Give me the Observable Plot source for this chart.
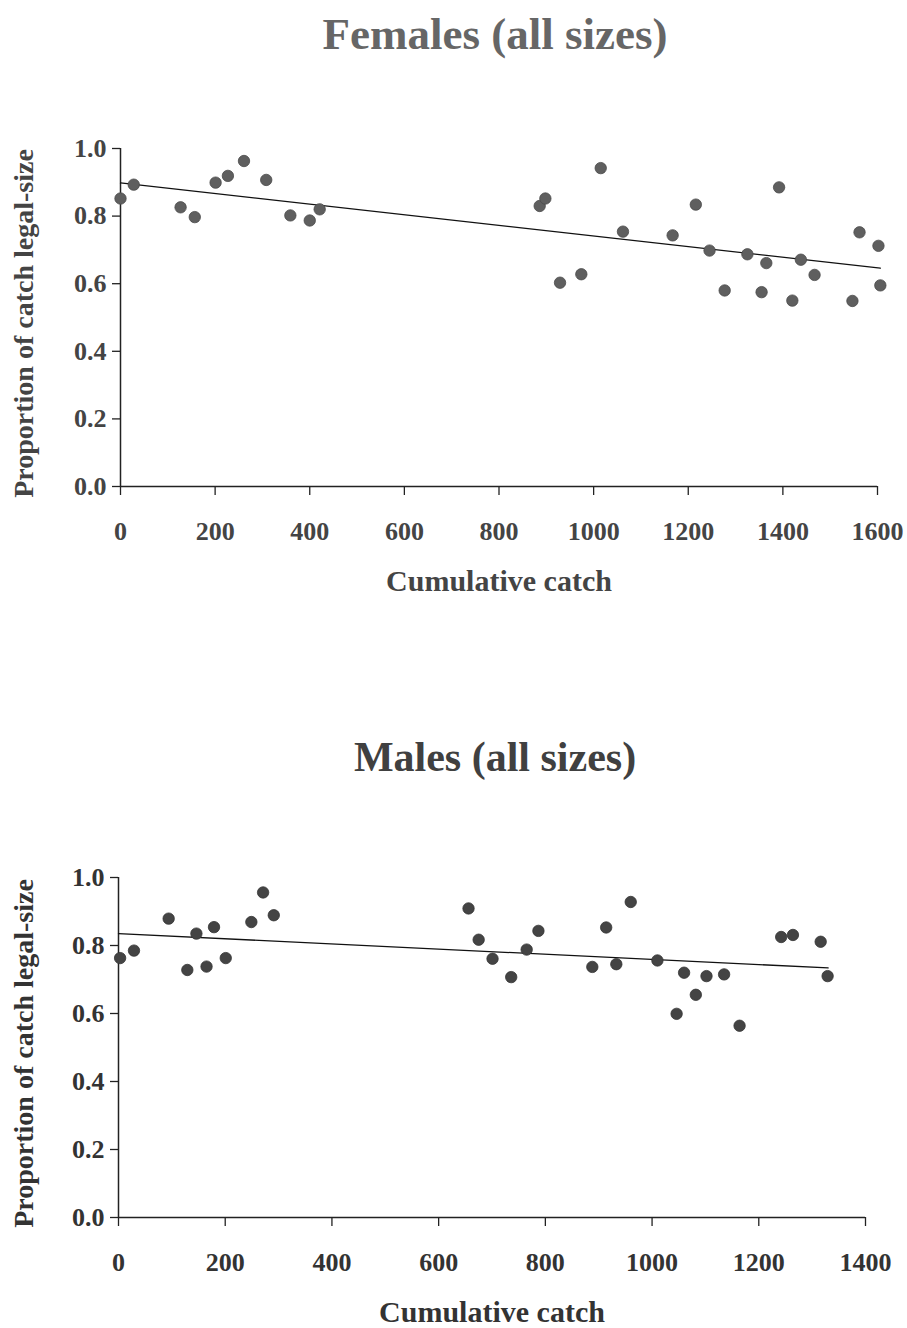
<!DOCTYPE html>
<html>
<head>
<meta charset="utf-8">
<script src="https://cdn.jsdelivr.net/npm/d3@7"></script>
<script src="https://cdn.jsdelivr.net/npm/@observablehq/plot@0.6"></script>
<style>
  body { margin: 0; background: #fff; }
  #wrap { position: relative; width: 907px; height: 1328px; overflow: hidden; background: #fff;
          font-family: "Liberation Serif", "Times New Roman", serif; }
  .title { position: absolute; left: 495px; font-weight: bold; white-space: nowrap;
           transform: translate(-50%, 0); }
  .panel { position: absolute; left: 0; }
</style>
</head>
<body>
<div id="wrap">
  <div class="title" id="t1"></div>
  <div class="panel" id="p1"></div>
  <div class="title" id="t2"></div>
  <div class="panel" id="p2"></div>
</div>
<script>
// ---------------- data ----------------
const femalesTitle = "Females (all sizes)";
const malesTitle = "Males (all sizes)";
const xLabel = "Cumulative catch";
const yLabel = "Proportion of catch legal-size";

const yTicks = [0, 0.2, 0.4, 0.6, 0.8, 1.0];
const femalesXTicks = [0, 200, 400, 600, 800, 1000, 1200, 1400, 1600];
const malesXTicks = [0, 200, 400, 600, 800, 1000, 1200, 1400];

const femalesCatch = [0, 28, 127, 157, 201, 227, 261, 308, 359, 400, 421, 886, 898, 929, 974, 1015,
  1062, 1167, 1216, 1245, 1277, 1325, 1355, 1365, 1392, 1420, 1438, 1467, 1547, 1562, 1602, 1606];
const femalesProp = [0.852, 0.893, 0.826, 0.797, 0.899, 0.919, 0.963, 0.907, 0.802, 0.787, 0.820, 0.830,
  0.852, 0.603, 0.628, 0.942, 0.754, 0.743, 0.834, 0.698, 0.580, 0.687, 0.575, 0.661, 0.885, 0.550,
  0.671, 0.626, 0.549, 0.752, 0.712, 0.595];
const femalesFitCatch = [0, 1606];
const femalesFitProp = [0.898, 0.646];

const malesCatch = [3, 29, 94, 129, 146, 165, 179, 201, 249, 271, 291, 656, 675, 701, 736, 765, 787,
  888, 914, 933, 960, 1010, 1046, 1060, 1082, 1102, 1135, 1164, 1242, 1264, 1316, 1329];
const malesProp = [0.763, 0.785, 0.879, 0.728, 0.835, 0.738, 0.854, 0.763, 0.869, 0.956, 0.889, 0.909,
  0.817, 0.761, 0.707, 0.788, 0.843, 0.737, 0.853, 0.745, 0.928, 0.756, 0.599, 0.720, 0.655, 0.710,
  0.715, 0.564, 0.825, 0.831, 0.811, 0.710];
const malesFitCatch = [0, 1330];
const malesFitProp = [0.835, 0.734];

// ---------------- drawing ----------------
function panel(o) {
  const pts = o.xs.map((x, i) => ({x, y: o.ys[i]}));
  const fit = o.fx.map((x, i) => ({x, y: o.fy[i]}));
  return Plot.plot({
    width: 907,
    height: o.height,
    marginLeft: o.marginLeft,
    marginRight: o.marginRight,
    marginTop: o.marginTop,
    marginBottom: o.marginBottom,
    style: {fontFamily: "'Liberation Serif', 'Times New Roman', serif", background: "white", overflow: "visible"},
    x: {domain: [0, o.xMax]},
    y: {domain: [0, 1]},
    marks: [
      Plot.axisY({ticks: yTicks, tickFormat: d3.format(".1f"), tickSize: 8, tickPadding: 6, label: null,
        fontSize: 26, fontWeight: "bold", fill: o.textFill, stroke: "#222", strokeWidth: 1.3}),
      Plot.axisX({ticks: o.xTicks, tickFormat: d => String(d), tickSize: 9, tickPadding: 26, label: null,
        fontSize: 26, fontWeight: "bold", fill: o.textFill, stroke: "#222", strokeWidth: 1.3}),
      Plot.ruleX([0], {y1: 0, y2: 1, stroke: "#222", strokeWidth: 1.5}),
      Plot.ruleY([0], {stroke: "#222", strokeWidth: 1.5}),
      Plot.line(fit, {x: "x", y: "y", stroke: "#111", strokeWidth: 1.3}),
      Plot.dot(pts, {x: "x", y: "y", r: 5.7, fill: o.dotFill, stroke: o.dotStroke, strokeWidth: 0.8}),
      Plot.text([xLabel], {text: d => d, frameAnchor: "bottom", textAnchor: "middle", lineAnchor: "middle",
        dy: 95, fontSize: 30, fontWeight: "bold", fill: o.textFill}),
      Plot.text([yLabel], {text: d => d, frameAnchor: "left", textAnchor: "middle", lineAnchor: "middle",
        dx: -(o.marginLeft - 24), dy: 6, rotate: -90, fontSize: 28,
        fontWeight: "bold", fill: o.textFill})
    ]
  });
}

const t1 = document.getElementById("t1");
t1.textContent = femalesTitle;
t1.style.fontSize = "45px";
t1.style.lineHeight = "45px";
t1.style.top = "12px";
t1.style.color = "#666";

const t2 = document.getElementById("t2");
t2.textContent = malesTitle;
t2.style.fontSize = "42px";
t2.style.lineHeight = "42px";
t2.style.top = "736px";
t2.style.color = "#404040";

const p1 = document.getElementById("p1");
p1.style.top = "70px";
p1.appendChild(panel({
  xs: femalesCatch, ys: femalesProp, fx: femalesFitCatch, fy: femalesFitProp,
  xMax: 1600, xTicks: femalesXTicks,
  height: 550, marginTop: 78, marginBottom: 134, marginLeft: 120, marginRight: 30,
  dotFill: "#5f5f5f", dotStroke: "#4a4a4a", textFill: "#444"
}));

const p2 = document.getElementById("p2");
p2.style.top = "800px";
p2.appendChild(panel({
  xs: malesCatch, ys: malesProp, fx: malesFitCatch, fy: malesFitProp,
  xMax: 1400, xTicks: malesXTicks,
  height: 528, marginTop: 77, marginBottom: 111, marginLeft: 118, marginRight: 42,
  dotFill: "#444", dotStroke: "#333", textFill: "#333"
}));
</script>
</body>
</html>
